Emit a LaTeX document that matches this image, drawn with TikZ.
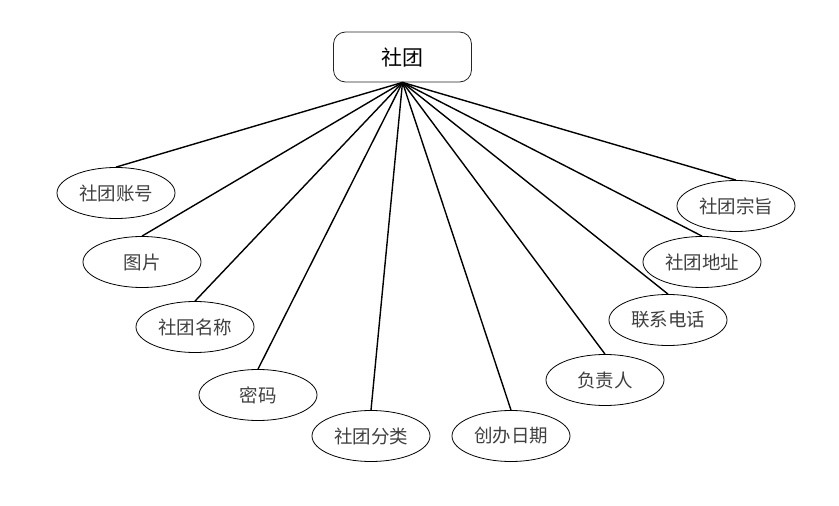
\documentclass[tikz,border=0pt]{standalone}
\usepackage{fontspec}
\usetikzlibrary{shapes.geometric}
\newfontfamily\cjk{Noto Sans CJK SC}
\begin{document}
\begin{tikzpicture}[x=1pt,y=-1pt,
  attr/.style={draw=black,line width=0.8pt,ellipse,minimum width=118pt,minimum height=51pt,inner sep=0pt,font=\cjk\fontsize{18.5}{18.5}\selectfont,text=black!75},
  ent/.style={draw=black!85,line width=0.8pt,rounded corners=12pt,minimum width=138pt,minimum height=50pt,inner sep=0pt,font=\cjk\fontsize{21}{21}\selectfont},
  link/.style={line width=1.4pt,black}]
\useasboundingbox[fill=white] (0,0) rectangle (839,506);
\node[ent] (e) at (402.5,57) {社团};
\node[attr] (a1) at (116,193) {社团账号};
\node[attr] (a2) at (142,262) {图片};
\node[attr] (a3) at (195,327) {社团名称};
\node[attr] (a4) at (258,395) {密码};
\node[attr] (a5) at (371,436) {社团分类};
\node[attr] (a6) at (511,436) {创办日期};
\node[attr] (a7) at (605,380) {负责人};
\node[attr] (a8) at (668,320) {联系电话};
\node[attr] (a9) at (702,262) {社团地址};
\node[attr] (a10) at (736,206) {社团宗旨};
\foreach \i in {1,...,10} \draw[link] (e.south) -- (a\i.north);
\end{tikzpicture}
\end{document}
